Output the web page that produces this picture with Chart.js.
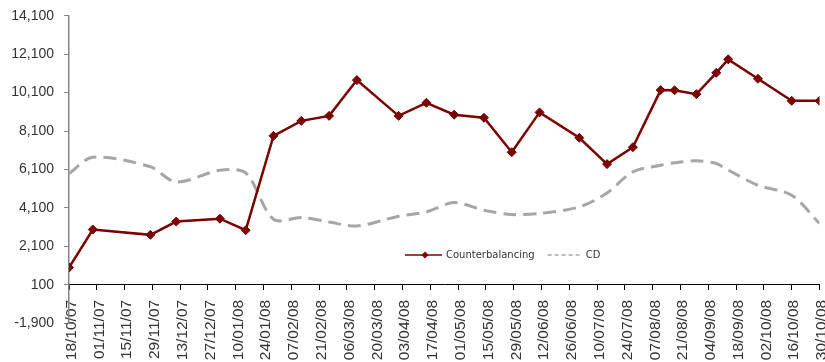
<!DOCTYPE html>
<html>
<head>
<meta charset="utf-8">
<script src="https://cdn.jsdelivr.net/npm/chart.js"></script>
<style>
  html, body { margin: 0; padding: 0; background: #fff; }
  #wrap { width: 825px; height: 362px; }
</style>
</head>
<body>
<div id="wrap"><canvas id="chart" width="825" height="362"></canvas></div>
<script>
// observation dates (dd/mm/yy)
const dates = ['18/10/07', '30/10/07', '28/11/07', '11/12/07', '02/01/08', '15/01/08', '29/01/08',
  '12/02/08', '26/02/08', '11/03/08', '01/04/08', '15/04/08', '29/04/08', '14/05/08', '28/05/08',
  '11/06/08', '01/07/08', '15/07/08', '28/07/08', '11/08/08', '18/08/08', '29/08/08', '08/09/08',
  '14/09/08', '29/09/08', '16/10/08', '30/10/08'];

const counterbalancing = [1000, 2980, 2700, 3390, 3540, 2940, 7850,
  8630, 8890, 10750, 8890, 9570, 8950, 8790, 7000,
  9070, 7750, 6380, 7260, 10230, 10220, 10020, 11130,
  11830, 10820, 9670, 9670];

const cd = [5890, 6740, 6240, 5450, 6060, 5920, 3510,
  3600, 3370, 3160, 3670, 3890, 4380, 3980, 3760,
  3810, 4150, 4880, 5980, 6320, 6450, 6550, 6410,
  6070, 5280, 4760, 3290];

const tickLabels = ['18/10/07', '01/11/07', '15/11/07', '29/11/07', '13/12/07', '27/12/07', '10/01/08',
  '24/01/08', '07/02/08', '21/02/08', '06/03/08', '20/03/08', '03/04/08', '17/04/08', '01/05/08',
  '15/05/08', '29/05/08', '12/06/08', '26/06/08', '10/07/08', '24/07/08', '07/08/08', '21/08/08',
  '04/09/08', '18/09/08', '02/10/08', '16/10/08', '30/10/08'];

const yMin = -1900, yMax = 14100, yStep = 2000;

// days since the first tick date
function toDay(s) {
  const [d, m, y] = s.split('/').map(Number);
  return Date.UTC(2000 + y, m - 1, d) / 86400000;
}
const day0 = toDay(tickLabels[0]);
const dayOf = s => toDay(s) - day0;

const red = '#7B0000';
const grey = '#A6A6A6';
const fontFamily = "'Liberation Sans', Arial, sans-serif";

// keep the plot box fixed: no automatic label padding
function noPad(s) {
  s.paddingLeft = 0; s.paddingRight = 0; s.paddingTop = 0; s.paddingBottom = 0;
}

// small legend drawn inside the plot
const innerLegend = {
  id: 'innerLegend',
  afterDraw(chart, args, opts) {
    const ctx = chart.ctx;
    let x = opts.x;
    const y = opts.y;
    ctx.save();
    ctx.font = "10px 'DejaVu Sans', Tahoma, sans-serif";
    ctx.textBaseline = 'middle';
    chart.data.datasets.forEach(ds => {
      const len = ds.borderDash ? 34 : 37;
      ctx.strokeStyle = ds.borderColor;
      ctx.lineWidth = 1.5;
      ctx.setLineDash(ds.borderDash ? [4, 3] : []);
      ctx.beginPath();
      ctx.moveTo(x, y);
      ctx.lineTo(x + len, y);
      ctx.stroke();
      ctx.setLineDash([]);
      if (ds.pointRadius > 0) {
        const cx = x + 20;
        ctx.fillStyle = ds.borderColor;
        ctx.beginPath();
        ctx.moveTo(cx, y - 3.5);
        ctx.lineTo(cx + 3.5, y);
        ctx.lineTo(cx, y + 3.5);
        ctx.lineTo(cx - 3.5, y);
        ctx.closePath();
        ctx.fill();
      }
      ctx.fillStyle = '#333';
      ctx.fillText(ds.label, x + len + 4, y);
      x += len + 4 + ctx.measureText(ds.label).width + 13;
    });
    ctx.restore();
  }
};

new Chart(document.getElementById('chart'), {
  type: 'line',
  data: {
    datasets: [{
      label: 'Counterbalancing',
      data: dates.map((d, i) => ({ x: dayOf(d), y: counterbalancing[i] })),
      borderColor: red,
      backgroundColor: red,
      borderWidth: 2.5,
      pointStyle: 'rectRot',
      pointRadius: 4.5,
      pointBorderWidth: 1,
      tension: 0
    }, {
      label: 'CD',
      data: dates.map((d, i) => ({ x: dayOf(d), y: cd[i] })),
      borderColor: grey,
      borderWidth: 3,
      borderDash: [13, 7],
      pointRadius: 0,
      tension: 0.3
    }]
  },
  options: {
    responsive: false,
    animation: false,
    devicePixelRatio: 1,
    layout: { padding: { top: 15.7, right: 4.7, left: 0, bottom: 38.7 } },
    plugins: {
      legend: { display: false },
      tooltip: { enabled: false },
      innerLegend: { x: 405, y: 255 }
    },
    scales: {
      x: {
        type: 'linear',
        position: { y: 100 },
        min: 0,
        max: dayOf(tickLabels[tickLabels.length - 1]),
        ticks: {
          stepSize: 14,
          autoSkip: false,
          minRotation: 90,
          maxRotation: 90,
          padding: 10,
          labelOffset: 2.5,
          color: '#333',
          font: { family: fontFamily, size: 15.5 },
          callback: (v, i) => tickLabels[i]
        },
        grid: { drawOnChartArea: false, tickLength: 5, color: '#000' },
        border: { color: '#000', width: 1 },
        afterFit: s => { s.height = 0; noPad(s); }
      },
      y: {
        min: yMin,
        max: yMax,
        ticks: {
          stepSize: yStep,
          padding: 10,
          color: '#333',
          font: { family: fontFamily, size: 14 },
          callback: v => v.toLocaleString('en-US')
        },
        grid: { drawOnChartArea: false, tickLength: 5, color: '#868686' },
        border: { color: '#868686', width: 1.5 },
        afterFit: s => { s.width = 69; noPad(s); }
      }
    }
  },
  plugins: [innerLegend]
});
</script>
</body>
</html>
